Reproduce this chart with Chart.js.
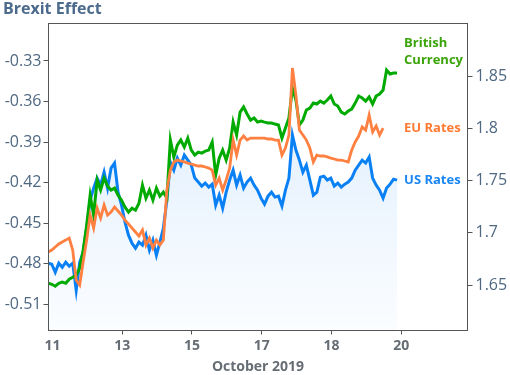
<!DOCTYPE html>
<html>
<head>
<meta charset="utf-8">
<script src="https://cdn.jsdelivr.net/npm/chart.js@4.4.0/dist/chart.umd.min.js"></script>
<style>
  html, body { margin: 0; padding: 0; background: #fff; }
  #wrap { width: 510px; height: 375px; }
</style>
</head>
<body>
<div id="wrap"><canvas id="brexitChart" width="510" height="375"></canvas></div>
<script>
// x position in trading-day units (0 = Oct 11, each tick one label)
const times = [-0.06,-0.01,0.04,0.09,0.14,0.19,0.24,0.29,0.34,0.39,
  0.44,0.49,0.54,0.59,0.64,0.69,0.74,0.79,0.84,0.89,
  0.94,0.99,1.04,1.09,1.14,1.19,1.24,1.29,1.34,1.39,
  1.44,1.49,1.54,1.59,1.64,1.69,1.74,1.79,1.84,1.89,
  1.94,1.99,2.04,2.09,2.14,2.19,2.24,2.29,2.34,2.39,
  2.44,2.49,2.54,2.59,2.64,2.69,2.74,2.79,2.84,2.89,
  2.94,2.99,3.04,3.09,3.14,3.19,3.24,3.29,3.34,3.39,
  3.44,3.49,3.54,3.59,3.64,3.69,3.74,3.79,3.84,3.89,
  3.94,3.99,4.04,4.09,4.14,4.19,4.24,4.29,4.34,4.39,
  4.44,4.49,4.54,4.59,4.64,4.69,4.74,4.79,4.84,4.89,
  4.94];

const britishCurrency = [1.6517,1.6507,1.6488,1.6517,1.6527,1.6517,1.6555,1.6574,1.6594,1.6661,
  1.6833,1.7073,1.7360,1.7168,1.7504,1.7408,1.7523,1.7446,1.7408,1.7427,
  1.7360,1.7312,1.7245,1.7197,1.7235,1.7216,1.7283,1.7456,1.7331,1.7408,
  1.7312,1.7427,1.7350,1.7389,1.7331,1.7887,1.7724,1.7839,1.7887,1.7820,
  1.7906,1.7791,1.7743,1.7772,1.7762,1.7781,1.7791,1.7868,1.7552,1.7714,
  1.7791,1.7695,1.7810,1.8059,1.7935,1.8155,1.8203,1.8136,1.8078,1.8098,
  1.8059,1.8069,1.8059,1.8050,1.8050,1.8040,1.8031,1.7906,1.8002,1.8098,
  1.8385,1.8270,1.8031,1.8078,1.8174,1.8193,1.8241,1.8232,1.8260,1.8241,
  1.8270,1.8308,1.8232,1.8213,1.8155,1.8136,1.8165,1.8184,1.8241,1.8308,
  1.8289,1.8260,1.8299,1.8232,1.8308,1.8328,1.8366,1.8557,1.8519,1.8529,
  1.8529];

const euRates = [-0.4713,-0.4699,-0.4676,-0.4654,-0.4639,-0.4625,-0.4610,-0.4699,-0.4921,-0.4958,
  -0.4787,-0.4625,-0.4440,-0.4536,-0.4388,-0.4462,-0.4366,-0.4440,-0.4417,-0.4380,
  -0.4410,-0.4440,-0.4477,-0.4506,-0.4536,-0.4565,-0.4595,-0.4551,-0.4662,-0.4610,
  -0.4684,-0.4625,-0.4662,-0.4625,-0.4255,-0.4107,-0.4047,-0.4033,-0.4040,-0.4047,
  -0.4055,-0.4062,-0.4070,-0.4077,-0.4077,-0.4084,-0.4092,-0.4107,-0.4218,-0.4166,
  -0.4255,-0.4181,-0.4092,-0.3885,-0.3996,-0.3885,-0.3855,-0.3885,-0.3870,-0.3870,
  -0.3870,-0.3870,-0.3870,-0.3877,-0.3877,-0.3885,-0.3885,-0.3996,-0.3944,-0.3848,
  -0.3352,-0.3552,-0.3811,-0.3848,-0.3885,-0.3944,-0.4047,-0.3996,-0.4003,-0.4003,
  -0.4010,-0.4018,-0.4025,-0.4033,-0.4033,-0.4040,-0.4047,-0.3959,-0.3899,-0.3855,
  -0.3788,-0.3811,-0.3700,-0.3825,-0.3781,-0.3848,-0.3796,null,null,null,
  null];

const usRates = [1.6709,1.6699,1.6622,1.6709,1.6670,1.6718,1.6680,1.6709,1.6450,1.6718,
  1.6814,1.7044,1.7312,1.7427,1.7523,1.7456,1.7580,1.7427,1.7619,1.7667,
  1.7389,1.7264,1.7101,1.6977,1.6900,1.6852,1.6910,1.6881,1.6977,1.6833,
  1.6929,1.6785,1.6910,1.7044,1.7312,1.7676,1.7599,1.7714,1.7647,1.7743,
  1.7695,1.7647,1.7523,1.7485,1.7446,1.7475,1.7437,1.7465,1.7264,1.7360,
  1.7235,1.7389,1.7504,1.7599,1.7456,1.7552,1.7427,1.7485,1.7523,1.7456,
  1.7408,1.7331,1.7274,1.7350,1.7389,1.7341,1.7350,1.7255,1.7408,1.7523,
  1.7935,1.7791,1.7695,1.7580,1.7647,1.7504,1.7360,1.7389,1.7532,1.7542,
  1.7504,1.7523,1.7446,1.7475,1.7437,1.7465,1.7485,1.7523,1.7599,1.7647,
  1.7695,1.7667,1.7724,1.7523,1.7456,1.7408,1.7331,1.7427,1.7465,1.7513,
  1.7504];

const dayTicks = [0, 1, 2, 3, 4, 5];
const dayLabels = ['11', '13', '15', '17', '18', '20'];
const leftTicks = [-0.51, -0.48, -0.45, -0.42, -0.39, -0.36, -0.33];
const rightTicks = [1.65, 1.7, 1.75, 1.8, 1.85];

const FONT = 'Open Sans';
const pts = vals => vals.map((v, i) => ({ x: times[i], y: v }));

// series names written at the right end of each line
const endLabels = {
  id: 'endLabels',
  afterDatasetsDraw(chart) {
    const ctx = chart.ctx;
    const left = chart.scales.x.getPixelForValue(times[times.length - 1]) + 7;
    ctx.save();
    ctx.font = 'bold 13px "' + FONT + '"';
    ctx.textBaseline = 'middle';
    ctx.textAlign = 'left';
    chart.data.datasets.forEach((ds, i) => {
      const last = chart.getDatasetMeta(i).data.filter(p => !p.skip).pop();
      const lines = ds.endLabel;
      const y0 = last.y - (lines.length - 1) * 30;
      ctx.fillStyle = ds.labelColor;
      lines.forEach((t, k) => ctx.fillText(t, left, y0 + k * 17));
    });
    ctx.restore();
  }
};

const frame = {
  id: 'frame',
  afterDraw(chart) {
    const { ctx, chartArea: a } = chart;
    ctx.save();
    ctx.strokeStyle = '#555';
    ctx.lineWidth = 1;
    ctx.strokeRect(a.left, a.top, a.right - a.left, a.bottom - a.top);
    ctx.restore();
  }
};

const ctx = document.getElementById('brexitChart').getContext('2d');
new Chart(ctx, {
  type: 'line',
  data: {
    datasets: [{
      label: 'EU Rates',
      endLabel: ['EU Rates'],
      labelColor: '#ff7a33',
      data: pts(euRates),
      yAxisID: 'yL',
      borderColor: '#ff8040',
      borderWidth: 2.8,
      pointRadius: 0,
      fill: false
    }, {
      label: 'British Currency',
      endLabel: ['British', 'Currency'],
      labelColor: '#3aa40a',
      data: pts(britishCurrency),
      yAxisID: 'yR',
      borderColor: '#00aa00',
      borderWidth: 3,
      pointRadius: 0,
      fill: false
    }, {
      label: 'US Rates',
      endLabel: ['US Rates'],
      labelColor: '#1a86f2',
      data: pts(usRates),
      yAxisID: 'yR',
      borderColor: '#0a80f5',
      borderWidth: 3,
      pointRadius: 0,
      fill: 'start',
      backgroundColor: c => {
        const a = c.chart.chartArea;
        if (!a) return 'rgba(30,136,245,0.1)';
        const g = c.chart.ctx.createLinearGradient(0, a.top, 0, a.bottom);
        g.addColorStop(0, 'rgba(30,136,245,0.17)');
        g.addColorStop(1, 'rgba(30,136,245,0.02)');
        return g;
      }
    }]
  },
  options: {
    responsive: false,
    animation: false,
    layout: { padding: { left: 3, right: 0, top: 0, bottom: 0 } },
    scales: {
      x: {
        type: 'linear',
        min: -0.057,
        max: 5.95,
        afterBuildTicks: s => { s.ticks = dayTicks.map(v => ({ value: v })); },
        afterFit: s => { s.height = 44.5; },
        ticks: {
          autoSkip: false,
          maxRotation: 0,
          padding: 3,
          color: '#666d75',
          font: { family: FONT, size: 14, weight: 'bold' },
          callback: v => dayLabels[dayTicks.indexOf(v)]
        },
        grid: {
          drawOnChartArea: false,
          tickLength: 4,
          tickColor: c => c.index === 0 ? 'rgba(0,0,0,0)' : '#555'
        },
        border: { display: false },
        title: {
          display: true,
          text: 'October 2019',
          color: '#666d75',
          font: { family: FONT, size: 14, weight: 'bold' },
          padding: 0
        }
      },
      yL: {
        position: 'left',
        min: -0.52938,
        max: -0.30226,
        afterBuildTicks: s => { s.ticks = leftTicks.map(v => ({ value: v })); },
        afterFit: s => { s.width = 45.5; },
        ticks: {
          padding: 2,
          color: '#4f6882',
          font: { family: FONT, size: 16 },
          callback: v => v.toFixed(2)
        },
        grid: { drawOnChartArea: false, tickLength: 5, tickColor: '#555' },
        border: { display: false }
      },
      yR: {
        position: 'right',
        min: 1.60646,
        max: 1.90024,
        afterBuildTicks: s => { s.ticks = rightTicks.map(v => ({ value: v })); },
        afterFit: s => { s.width = 42.5; },
        ticks: {
          padding: 3,
          color: '#4f6882',
          font: { family: FONT, size: 16 },
          callback: v => String(+v.toFixed(2))
        },
        grid: { drawOnChartArea: false, tickLength: 5, tickColor: '#555' },
        border: { display: false }
      }
    },
    plugins: {
      legend: { display: false },
      tooltip: { enabled: false },
      title: {
        display: true,
        text: 'Brexit Effect',
        align: 'start',
        color: '#4b6a8c',
        font: { family: FONT, size: 16, weight: 'bold' },
        padding: { top: 0, bottom: 4.3 }
      }
    }
  },
  plugins: [endLabels, frame]
});
</script>
</body>
</html>
